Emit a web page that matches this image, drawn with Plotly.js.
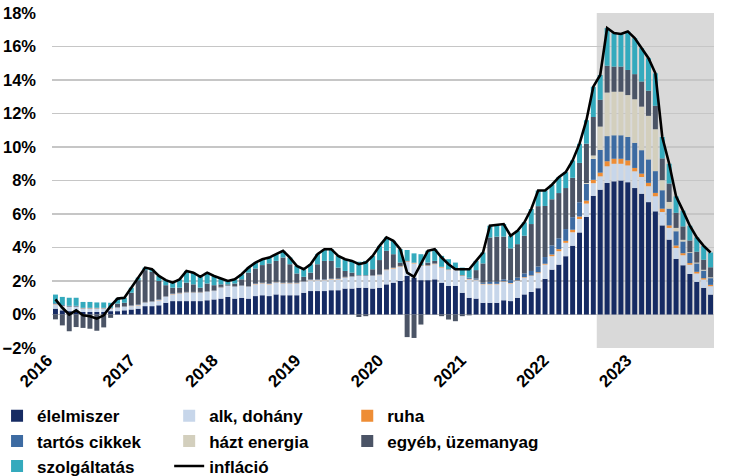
<!DOCTYPE html>
<html>
<head>
<meta charset="utf-8">
<script src="https://cdn.plot.ly/plotly-3.0.1.min.js"></script>
<style>html,body{margin:0;padding:0;background:#fff;}#chart{width:730px;height:476px;}</style>
</head>
<body>
<div id="chart"></div>
<script>
// Month categories (Jan 2016 .. Dec 2023)
const years = [2016, 2017, 2018, 2019, 2020, 2021, 2022, 2023];
const months = [];
years.forEach(y => { for (let m = 1; m <= 12; m++) months.push(y + '-' + (m < 10 ? '0' + m : m)); });
const tickVals = years.map(y => y + '-01');
const tickText = years.map(String);

// Contributions (percentage points)
const elelmiszer = [0.35,0.25,0.2,0.2,0.15,0.15,0.15,0.15,0.2,0.2,0.25,0.3,
0.35,0.5,0.5,0.55,0.7,0.8,0.8,0.8,0.8,0.8,0.85,0.9,
0.95,1.05,0.95,1.0,0.95,1.1,1.15,1.1,1.2,1.15,1.15,1.15,
1.3,1.4,1.4,1.4,1.45,1.45,1.55,1.55,1.6,1.6,1.55,1.6,
1.8,1.9,2.0,2.3,2.2,2.05,2.05,2.1,1.9,1.7,1.7,1.3,
1.0,0.95,0.7,0.7,0.7,0.85,0.8,1.0,1.2,1.35,1.57,2.13,
2.68,2.98,3.48,4.11,4.9,5.82,7.09,7.45,7.85,7.95,8.0,7.9,
7.55,7.21,6.71,6.16,5.32,4.47,3.32,2.94,2.42,1.95,1.59,1.19];

const alkDohany = [0.25,0.25,0.25,0.25,0.2,0.2,0.2,0.2,0.15,0.2,0.2,0.2,
0.2,0.2,0.25,0.3,0.35,0.4,0.45,0.5,0.5,0.5,0.5,0.5,
0.65,0.65,0.7,0.7,0.7,0.7,0.7,0.7,0.7,0.7,0.7,0.7,
0.65,0.65,0.65,0.65,0.65,0.65,0.65,0.7,0.7,0.7,0.75,0.75,
0.85,0.85,0.85,0.85,0.85,0.85,0.85,0.9,0.9,0.95,0.95,1.0,
1.1,1.1,1.1,1.1,1.1,1.1,1.05,1.0,1.0,0.95,0.9,0.85,
0.8,0.8,0.8,0.8,0.8,0.8,0.75,0.8,1.0,1.05,1.0,1.0,
1.0,1.0,0.95,0.9,0.8,0.7,0.65,0.6,0.55,0.5,0.5,0.5];

const ruha = [0.02,0.02,0.02,0.02,0.02,0.02,0.02,0.02,0.02,0.02,0.02,0.02,
0.02,0.02,0.02,0.02,0.02,0.02,0.02,0.02,0.02,0.02,0.02,0.02,
0.02,0.02,0.02,0.02,0.02,0.02,0.02,0.02,0.02,0.02,0.02,0.02,
0.02,0.02,0.02,0.02,0.02,0.02,0.02,0.02,0.02,0.02,0.02,0.02,
0.03,0.03,0.03,0.03,0.03,0.03,0.03,0.03,0.03,0.03,0.03,0.03,
0.03,0.03,0.03,0.03,0.03,0.03,0.03,0.03,0.03,0.03,0.05,0.05,
0.1,0.12,0.12,0.15,0.15,0.18,0.2,0.22,0.3,0.3,0.3,0.3,
0.2,0.2,0.2,0.2,0.2,0.15,0.15,0.12,0.1,0.1,0.08,0.08];

const tartos = [0.05,0.05,0.05,0.05,0.03,0.03,0.03,0.03,0.03,0.03,0.03,0.03,
0.03,0.03,0.03,0.03,0.03,0.03,0.03,0.03,0.03,0.03,0.03,0.03,
0.03,0.03,0.03,0.03,0.03,0.03,0.03,0.03,0.03,0.03,0.03,0.03,
0.03,0.03,0.03,0.03,0.03,0.03,0.03,0.03,0.03,0.03,0.03,0.03,
0.02,0.02,0.02,0.02,0.02,0.02,0.02,0.02,0.02,0.02,0.02,0.02,
0.07,0.07,0.07,0.12,0.12,0.12,0.17,0.17,0.22,0.27,0.35,0.4,
0.55,0.65,0.7,0.75,0.85,1.0,1.25,1.35,1.5,1.4,1.4,1.4,
1.5,1.4,1.4,1.3,1.1,1.0,0.85,0.7,0.6,0.5,0.45,0.4];

const haztEnergia = [0,0,0,0,0,0,0,0,0,0,0,0,
0,0,0,0,0,0,0,0,0,0,0,0,
0,0,0,0,0,0,0,0,0,0,0,0,
0,0,0,0,0,0,0,0,0,0,0,0,
0,0,0,0,0,0,0,0,0,0,0,0,
0,0,0,0,0,0,0,0,0,0,0,0,
0,0,0,0,0,0.05,0.2,1.4,2.6,2.6,2.6,2.5,
2.6,2.6,2.6,2.5,0.6,0.4,0.2,0.1,0.05,0.05,0.05,0.05];

const egyeb = [-0.29,-0.65,-1.0,-0.75,-0.8,-0.85,-0.97,-0.77,-0.2,0.2,0.2,0.75,
1.45,1.9,1.75,1.1,0.65,0.35,0.3,0.55,0.45,0.25,0.45,0.3,
0.15,0.05,0.15,0.35,0.8,0.9,1.05,1.2,1.25,1.5,1.1,0.55,
0.25,0.4,0.9,1.1,1.05,0.65,0.35,0.2,-0.15,-0.1,0.35,0.85,
1.1,0.8,0.2,-1.35,-1.4,-0.6,0.15,0.15,-0.1,-0.3,-0.4,-0.1,
-0.05,0.5,1.15,2.65,2.7,2.55,1.9,2.0,2.25,2.8,3.6,3.05,
2.75,2.7,2.45,2.35,2.35,2.35,2.3,1.6,1.6,1.5,1.5,1.5,
1.5,1.5,1.5,1.4,1.3,1.1,0.9,0.8,0.7,0.65,0.6,0.6];

const szolgaltatas = [0.52,0.48,0.48,0.48,0.35,0.35,0.32,0.32,0.3,0.3,0.3,0.3,
0.15,0.15,0.15,0.3,0.3,0.3,0.5,0.7,0.7,0.65,0.65,0.55,
0.35,0.2,0.25,0.3,0.3,0.35,0.35,0.35,0.4,0.4,0.4,0.45,
0.45,0.5,0.6,0.7,0.7,0.7,0.7,0.7,0.8,0.85,0.8,0.85,
0.8,0.8,0.8,0.65,0.55,0.65,0.7,0.7,0.65,0.6,0.4,0.45,
0.55,0.55,0.65,0.7,0.7,0.75,0.75,0.8,0.8,0.9,0.93,0.92,
0.87,0.95,0.95,1.04,1.15,1.4,1.81,1.48,2.25,2.0,1.95,2.3,
2.15,1.99,1.94,1.94,1.28,1.18,0.98,0.94,0.88,0.85,0.83,0.88];

const inflacio = [0.9,0.4,0.0,0.25,-0.05,-0.1,-0.25,-0.05,0.5,0.95,1.0,1.6,
2.2,2.8,2.7,2.3,2.05,1.9,2.1,2.6,2.5,2.25,2.5,2.3,
2.15,2.0,2.1,2.4,2.8,3.1,3.3,3.4,3.6,3.8,3.4,2.9,
2.7,3.0,3.6,3.9,3.9,3.5,3.3,3.2,3.0,3.1,3.5,4.1,
4.6,4.4,3.9,2.5,2.25,3.0,3.8,3.9,3.4,3.0,2.7,2.7,
2.7,3.2,3.7,5.3,5.35,5.4,4.7,5.0,5.5,6.3,7.4,7.4,
7.75,8.2,8.5,9.2,10.2,11.6,13.6,14.3,17.1,16.8,16.75,16.9,
16.5,15.9,15.3,14.4,10.6,9.0,7.05,6.2,5.3,4.6,4.1,3.7];

const seriesNames = ['élelmiszer', 'alk, dohány', 'ruha', 'tartós cikkek', 'házt energia', 'egyéb, üzemanyag', 'szolgáltatás'];
const seriesData = [elelmiszer, alkDohany, ruha, tartos, haztEnergia, egyeb, szolgaltatas];
const seriesColors = ['#162b63', '#c7d6ea', '#ee8d35', '#3d6ba2', '#d3cfbd', '#4b5466', '#34aabd'];
// legend column for each series (3-column legend as in the original)
const seriesLegend = ['legend', 'legend2', 'legend3', 'legend', 'legend2', 'legend3', 'legend'];

const traces = seriesData.map((d, i) => ({
  type: 'bar', x: months, y: d, name: seriesNames[i],
  marker: {color: seriesColors[i], line: {width: 0}},
  legend: seriesLegend[i],
  hoverinfo: 'skip'
}));
traces.push({
  type: 'scatter', mode: 'lines', x: months, y: inflacio, name: 'infláció',
  line: {color: '#000000', width: 2.6}, legend: 'legend2', hoverinfo: 'skip'
});

const font = {family: 'Liberation Sans, Arial, sans-serif', color: '#000000'};
const legendFont = {family: font.family, size: 17, color: '#000', weight: 'bold'};
function legendAt(x) {
  return {
    orientation: 'v', x: x, xanchor: 'left', y: -0.15, yanchor: 'top',
    traceorder: 'normal', font: legendFont, tracegroupgap: 0,
    bgcolor: 'rgba(0,0,0,0)', borderwidth: 0, itemclick: false
  };
}

const layout = {
  width: 730, height: 476,
  margin: {l: 52, r: 16, t: 13, b: 128, autoexpand: false},
  paper_bgcolor: '#ffffff', plot_bgcolor: '#ffffff',
  barmode: 'relative', bargap: 0.28,
  font: font,
  showlegend: true,
  xaxis: {
    type: 'category', range: [-0.5, 95.5],
    tickvals: tickVals, ticktext: tickText, tickangle: -45,
    tickfont: {family: font.family, size: 17, color: '#000', weight: 'bold'},
    showgrid: false, zeroline: false, showline: false, ticks: '',
    ticklabelstandoff: -2, ticklabelshift: -8
  },
  yaxis: {
    range: [-2, 18], dtick: 2, tick0: 0, ticksuffix: '%',
    tickfont: {family: font.family, size: 16.5, color: '#000', weight: 'bold'},
    gridcolor: '#c6c6c6', gridwidth: 1.3, zeroline: false, showline: false,
    ticks: '', ticklabelstandoff: 15
  },
  shapes: [{
    type: 'rect', xref: 'x', yref: 'paper', x0: 78.5, x1: 95.5, y0: 0, y1: 1,
    fillcolor: '#d9d9d9', line: {width: 0}, layer: 'below'
  }],
  legend: legendAt(-0.083),
  legend2: legendAt(0.177),
  legend3: legendAt(0.446)
};

Plotly.newPlot('chart', traces, layout, {displayModeBar: false, staticPlot: true});
</script>
</body>
</html>
